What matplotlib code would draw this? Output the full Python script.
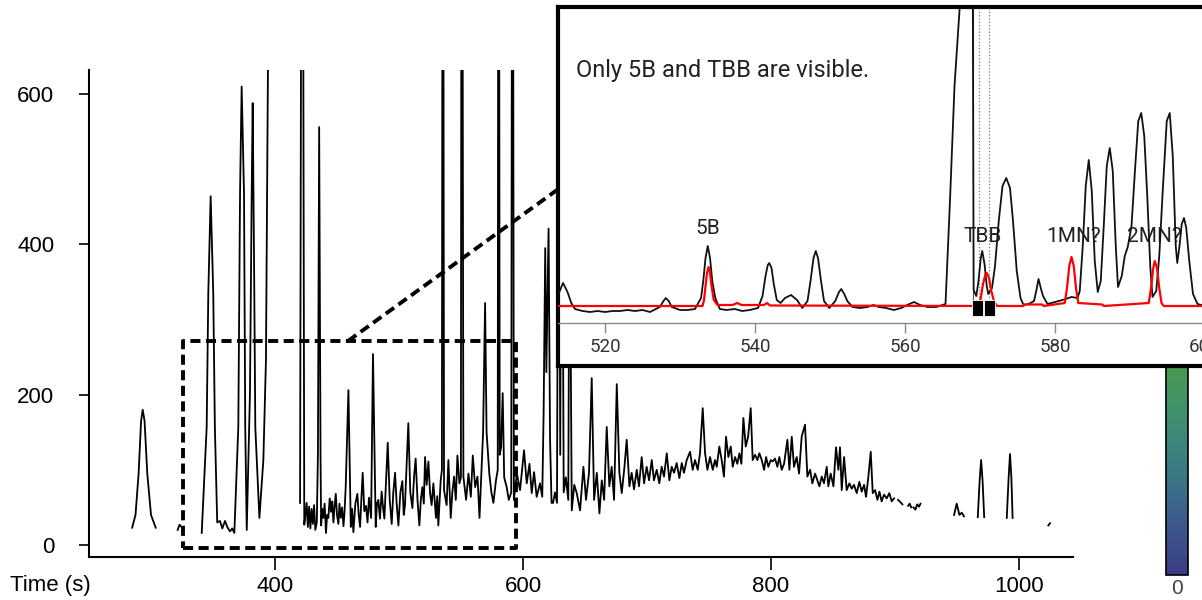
import numpy as np
import matplotlib
matplotlib.use('Agg')
import matplotlib.pyplot as plt
from matplotlib.lines import Line2D
from matplotlib.patches import Rectangle
from matplotlib.colors import LinearSegmentedColormap, Normalize
from matplotlib.cm import ScalarMappable

plt.rcParams['font.family'] = ['Liberation Sans', 'DejaVu Sans']

# ---- main trace, (time s, counts); off-scale tops are above the axis limit
peak_290 = [(284.8, 23), (287.5, 40), (290.0, 95), (292.0, 165), (293.3, 180),
            (294.8, 165), (297.0, 95), (300.0, 40), (303.8, 23)]
tick_323 = [(321.5, 20), (323.0, 27), (324.0, 25)]
run_340 = [(340.9, 16), (344.9, 157), (346.2, 335), (348.1, 464), (350.2, 335),
           (351.5, 157), (353.4, 30), (355.6, 32), (357.5, 22), (359.7, 32),
           (361.5, 24), (363.7, 18), (365.5, 22), (367.2, 16), (370.4, 157),
           (371.8, 468), (373.1, 610), (375.0, 468), (376.0, 157), (377.2, 20),
           (379.8, 202), (381.2, 468), (382.0, 588), (383.1, 379), (384.1, 157),
           (387.4, 36), (390.6, 113), (392.7, 246), (395.4, 900)]
run_420 = [(420.2, 56), (421.9, 1400), (423.6, 27), (424.5, 40), (425.5, 56),
           (426.5, 24), (427.5, 51), (428.5, 22), (429.5, 48), (430.5, 28),
           (431.5, 53), (432.5, 20), (433.7, 30), (434.6, 120), (435.6, 556),
           (436.7, 120), (437.2, 26), (438.1, 48), (439.0, 36), (440.0, 55),
           (441.1, 16), (442.0, 40), (443.0, 36), (444.1, 62), (445.2, 44),
           (446.2, 58), (447.1, 30), (448.0, 50), (449.0, 68), (450.0, 40),
           (451.1, 28), (452.0, 55), (453.0, 36), (454.1, 50), (455.2, 25),
           (456.1, 45), (457.0, 77), (459.2, 206), (461.1, 24), (462.2, 48),
           (463.2, 17), (464.8, 55), (466.4, 68), (467.5, 40), (468.6, 24),
           (469.6, 60), (470.7, 96), (472.0, 45), (473.4, 52), (474.6, 30),
           (475.8, 63), (476.7, 48), (477.5, 36), (479.0, 254), (481.2, 24),
           (482.2, 55), (483.3, 60), (484.6, 35), (486.0, 71), (487.1, 50),
           (488.2, 35), (490.9, 136), (492.5, 60), (494.1, 28), (495.4, 70),
           (496.8, 96), (498.1, 55), (499.5, 26), (501.1, 70), (502.7, 85),
           (503.8, 40), (504.8, 53), (507.5, 162), (509.1, 70), (510.8, 49),
           (512.1, 90), (513.4, 115), (514.9, 60), (516.4, 26), (517.6, 60),
           (518.8, 77), (520.0, 55), (521.0, 117), (522.3, 80), (523.7, 111),
           (525.0, 70), (526.3, 53), (527.7, 82), (529.8, 36), (530.8, 65),
           (531.7, 26), (533.6, 86), (534.6, 100),
           (535.3, 1400), (536.3, 73), (538.4, 53), (539.8, 113), (541.7, 36),
           (543.0, 70), (544.4, 91), (545.8, 60), (547.1, 119), (548.7, 82),
           (549.9, 90), (550.6, 1400),
           (551.9, 91), (554.1, 60), (556.0, 95), (557.9, 64), (559.5, 119),
           (561.4, 77), (563.3, 91), (564.9, 36), (566.8, 113), (567.8, 150),
           (569.4, 322), (570.6, 150), (572.8, 95), (574.5, 70), (576.1, 56),
           (578.2, 86), (579.6, 100), (580.3, 1400), (581.2, 120), (582.3, 130),
           (583.6, 202), (584.8, 90), (586.8, 77), (588.5, 60), (590.5, 70),
           (591.5, 1400), (592.6, 60), (595.0, 95), (597.6, 73), (600.8, 126),
           (603.0, 82), (605.2, 108), (607.0, 69), (608.9, 97), (611.0, 64),
           (613.7, 82), (615.5, 64), (616.6, 175), (617.9, 395), (618.8, 230),
           (620.6, 421), (621.8, 140), (623.0, 56), (624.2, 56), (625.8, 70),
           (627.4, 56), (628.8, 800), (630.0, 120), (631.2, 700), (632.8, 70),
           (634.5, 90), (636.5, 60), (637.5, 500), (639.3, 46), (641.3, 80),
           (643.3, 69), (646.0, 46), (648.7, 104), (650.8, 60), (653.2, 96),
           (655.4, 222), (657.3, 60), (659.5, 96), (661.6, 42), (663.5, 86),
           (665.4, 60), (667.5, 157), (669.6, 78), (671.5, 104), (673.4, 60),
           (675.6, 214), (677.7, 96), (679.6, 69), (681.8, 104), (683.6, 140),
           (685.8, 78), (687.6, 96), (689.5, 74), (691.7, 100), (693.5, 78),
           (695.7, 117), (697.6, 82), (699.7, 104), (701.6, 86), (703.8, 113),
           (705.6, 86), (707.8, 100), (709.9, 82), (711.8, 104), (713.7, 91),
           (715.9, 122), (718.0, 86), (719.9, 104), (721.8, 96), (723.9, 109),
           (726.1, 89), (728.0, 109), (729.8, 96), (732.0, 113), (734.7, 124),
           (736.8, 100), (738.7, 113), (740.9, 100), (742.7, 122), (744.9, 182),
           (746.8, 122), (748.7, 100), (750.8, 117), (753.0, 100), (754.8, 113),
           (756.2, 104), (758.3, 131), (760.2, 113), (762.0, 91), (763.7, 144),
           (765.6, 117), (767.5, 131), (769.1, 104), (771.0, 117), (772.8, 108),
           (774.5, 122), (776.1, 108), (777.7, 169), (779.6, 131), (781.5, 144),
           (783.6, 182), (785.2, 113), (787.1, 120), (789.0, 113), (790.6, 122),
           (792.5, 113), (794.4, 100), (796.0, 117), (797.8, 104), (799.7, 113),
           (801.3, 111), (803.2, 115), (805.1, 104), (806.7, 117), (808.6, 100),
           (810.5, 108), (813.2, 140), (814.8, 100), (816.7, 144), (818.5, 104),
           (820.7, 117), (822.6, 95), (824.7, 144), (827.4, 160), (829.3, 91),
           (831.5, 100), (833.3, 82), (835.5, 95), (837.4, 86), (839.0, 78),
           (840.9, 91), (842.7, 82), (844.9, 104), (846.2, 78), (848.1, 95),
           (850.3, 78), (852.4, 130), (854.3, 100), (855.6, 130), (857.0, 73),
           (858.9, 117), (861.0, 73), (863.2, 82), (865.1, 75), (866.9, 80),
           (869.1, 69), (871.2, 84), (873.1, 71), (875.0, 80), (876.6, 64),
           (878.5, 91), (880.4, 124), (882.0, 69), (883.9, 73), (885.8, 60),
           (887.4, 71), (889.2, 58), (891.1, 67), (893.3, 62), (895.4, 69),
           (897.3, 58), (899.2, 62)]
bits_905 = [(902.5, 60), (904.2, 57), (906.0, 54)]
bits_911 = [(910.5, 52), (911.8, 55), (913.0, 50)]
bits_917 = [(914.8, 50), (916.4, 47), (917.8, 54), (919.4, 51), (920.5, 55)]
run_950 = [(947.6, 40), (949.7, 55), (951.9, 40), (953.8, 43), (955.6, 38)]
peak_969 = [(966.7, 37), (968.2, 85), (969.4, 113), (970.6, 85), (971.9, 37)]
peak_993 = [(990.1, 36), (991.6, 90), (992.7, 121), (993.8, 90), (994.8, 36)]
tick_1024 = [(1023.6, 26), (1025.0, 29)]

main_segments = [peak_290, tick_323, run_340, run_420, bits_905, bits_911,
                 bits_917, run_950, peak_969, peak_993, tick_1024]

# zoom window drawn on the main trace (time, counts)
zoom_t = [325.8, 594.4]
zoom_v = [-4, 271]

# ---- inset trace (time s, height above baseline)
inset_black = [(513.8, 12), (514.4, 23), (515.0, 14), (515.5, 3), (516.0, -3),
               (517, -5), (518, -6), (519, -5), (520, -6), (521, -5), (522, -5),
               (523, -4), (524, -5), (525, -4), (526, -6), (527.3, -1),
               (527.8, 5), (528.1, 8), (528.5, 5), (528.9, -1), (530, -4),
               (531, -4), (532, -3), (532.8, 8), (533.1, 25), (533.4, 48),
               (533.7, 60), (534.0, 48), (534.3, 25), (534.7, 8), (535.3, -3),
               (536.2, -4), (537.3, -3), (538.3, -5), (539.3, -4), (540.4, -2),
               (541.0, 10), (541.4, 30), (541.7, 41), (541.9, 43), (542.2, 38),
               (542.5, 22), (542.9, 6), (543.4, 3), (544.0, 8), (544.8, 11),
               (545.6, 6), (546.3, -2), (547.0, 5), (547.4, 25), (547.8, 48),
               (548.1, 55), (548.4, 48), (548.8, 25), (549.2, 5), (549.9, -2),
               (550.7, 5), (551.2, 14), (551.5, 17), (551.9, 12), (552.3, 5),
               (553.0, -1), (554, -2), (555, -1), (555.8, 1), (556.5, -1),
               (557.5, -2), (558.5, -4), (559.5, -2), (560.3, 1), (561.2, 4),
               (562.0, 1), (563, -1), (564.2, -1), (565.4, 2), (566.0, 106),
               (566.6, 220), (567.3, 298), (568.2, 420), (569.0, 420),
               (569.15, 16), (569.5, 10), (569.8, 25), (570.1, 48), (570.3, 55),
               (570.6, 42), (570.9, 20), (571.1, 12), (571.6, 18), (572.0, 40),
               (572.5, 85), (573.0, 120), (573.5, 128), (574.0, 118), (574.4, 85),
               (574.9, 35), (575.4, 8), (575.8, 1), (576.5, 2), (577.2, 5),
               (577.5, 15), (577.8, 27), (578.1, 18), (578.4, 10), (579.0, 2),
               (580, 4), (581, 6), (582.2, 9), (583.0, 8), (583.3, 15),
               (583.7, 60), (584.1, 120), (584.5, 146), (584.9, 115), (585.3, 45),
               (585.7, 14), (586.1, 25), (586.5, 80), (586.9, 140), (587.3, 158),
               (587.7, 135), (588.1, 60), (588.4, 19), (588.9, 30), (589.3, 50),
               (589.7, 59), (590.2, 80), (590.7, 140), (591.1, 185), (591.5, 193),
               (591.9, 170), (592.3, 110), (592.7, 40), (593.0, 9), (593.5, 15),
               (593.9, 50), (594.4, 120), (594.9, 185), (595.3, 193), (595.7, 150),
               (596.1, 60), (596.3, 43), (596.6, 60), (596.9, 82), (597.2, 88),
               (597.5, 78), (597.9, 45), (598.4, 12), (599.0, 2), (600, 0),
               (603, 0), (607, 0)]
inset_red = [(513.7, 0), (533.0, 0), (533.2, 6), (533.4, 20), (533.6, 33),
             (533.8, 39), (534.0, 33), (534.2, 20), (534.5, 6), (535.0, 1),
             (537.0, 1), (537.6, 3), (538.2, 1), (541.2, 1), (541.6, 3),
             (542.0, 0.5), (569.8, 0), (570.1, 8), (570.4, 22), (570.7, 31),
             (570.9, 33), (571.2, 28), (571.5, 15), (571.9, 4), (572.3, 0),
             (575.8, 0), (575.9, 1.5), (578.3, 1.5), (578.5, 0), (581.3, 3),
             (581.6, 18), (581.9, 40), (582.2, 49), (582.5, 40), (582.8, 18),
             (583.1, 3), (586.3, 1.5), (586.5, 0), (592.5, 3), (592.8, 18),
             (593.1, 38), (593.3, 45), (593.6, 38), (593.9, 18), (594.2, 3),
             (594.5, 0), (607, 0)]
inset_labels = ['5B', 'TBB', '1MN?', '2MN?']
label_t = [533.7, 570.4, 582.5, 593.3]
label_h = [78, 70, 70, 70]
marker_lines = [569.8, 571.2]
marker_boxes = [568.9, 570.5]

cbar_colors = ['#3d3b87', '#3b5b8c', '#3a7d84', '#3f9170', '#4a9a4c']

W, H = 1202, 600
fig = plt.figure(figsize=(W / 100, H / 100), dpi=100)


def fbox(x0, y0, x1, y1):
    # pixel box (top-left origin) -> figure fraction [l, b, w, h]
    return [x0 / W, 1 - y1 / H, (x1 - x0) / W, (y1 - y0) / H]


# ---- main axes
ax = fig.add_axes(fbox(89, 70, 1073, 557))
ax.set_zorder(1)
t_all, v_all = [], []
for seg in main_segments:
    for t, v in seg:
        t_all.append(t)
        v_all.append(v)
    t_all.append(np.nan)
    v_all.append(np.nan)
ax.plot(t_all, v_all, color='black', lw=1.3)
ax.set_xlim(250, 1043.5)
ax.set_ylim(-16, 632)
ax.set_xticks([400, 600, 800, 1000])
ax.set_yticks([0, 200, 400, 600])
for s in ['top', 'right']:
    ax.spines[s].set_visible(False)
for s in ['left', 'bottom']:
    ax.spines[s].set_linewidth(1.5)
ax.tick_params(axis='x', length=9, width=1.2, pad=5, labelsize=16)
ax.tick_params(axis='y', length=7, width=1.2, pad=18, labelsize=16)

ax.plot([zoom_t[0], zoom_t[1], zoom_t[1], zoom_t[0], zoom_t[0]],
        [zoom_v[0], zoom_v[0], zoom_v[1], zoom_v[1], zoom_v[0]],
        color='black', lw=2.8, ls=(0, (2.6, 1.4)), clip_on=False)

fig.text(10 / W, 1 - 585 / H, 'Time (s)', fontsize=16, va='center', ha='left')

# connector from zoom window to the inset
fig.add_artist(Line2D([348 / W, 557 / W], [1 - 341 / H, 1 - 190 / H],
                      transform=fig.transFigure, color='black', lw=2.8,
                      ls=(0, (2.6, 1.4)), zorder=2))

# ---- colour bar at right
cax = fig.add_axes(fbox(1166, 360, 1188, 575))
cax.set_zorder(1)
cmap = LinearSegmentedColormap.from_list('bar', cbar_colors)
cb = fig.colorbar(ScalarMappable(norm=Normalize(0, 1), cmap=cmap), cax=cax)
cb.set_ticks([])
cb.outline.set_linewidth(1.2)
fig.text(1177 / W, 1 - 588 / H, '0', fontsize=15, ha='center', va='center',
         color='#444444')

# ---- inset frame
box = fig.add_axes(fbox(558, 7, 1262, 366))
box.set_zorder(5)
box.set_facecolor('white')
box.set_xticks([])
box.set_yticks([])
for s in box.spines.values():
    s.set_linewidth(3)

ins = fig.add_axes(fbox(558, 8, 1262, 323))
ins.set_zorder(6)
ins.patch.set_alpha(0)
ins.set_xlim(513.73, 607.6)
ins.set_ylim(-17, 298)
for s in ['top', 'right', 'left']:
    ins.spines[s].set_visible(False)
ins.spines['bottom'].set_color('#8a8a8a')
ins.spines['bottom'].set_linewidth(1)
ins.set_yticks([])
ins.set_xticks([520, 540, 560, 580, 600])
ins.tick_params(axis='x', length=7, width=1, color='#8a8a8a', pad=4,
                labelsize=13.5, labelcolor='#333333')
for lab in ins.get_xticklabels():
    lab.set_fontfamily(['Roboto', 'DejaVu Sans'])

for mt in marker_lines:
    ins.axvline(mt, ymin=0.06, ymax=1, color='#777777', lw=0.9, ls=':')
ins.axvline(569.0, ymin=0.06, ymax=1, color='#555555', lw=0.8)
for mb in marker_boxes:
    ins.add_patch(Rectangle((mb, -10), 1.45, 16, facecolor='black',
                            edgecolor='white', lw=0.6, zorder=4))

bt = [p[0] for p in inset_black]
bh = [p[1] for p in inset_black]
rt = [p[0] for p in inset_red]
rh = [p[1] for p in inset_red]
ins.plot(bt, bh, color='#111111', lw=1.3, zorder=3)
ins.plot(rt, rh, color='#ff0000', lw=1.6, zorder=3.5)

for name, t, h in zip(inset_labels, label_t, label_h):
    ins.text(t, h, name, fontsize=15, ha='center', va='center',
             color='#222222', family=['Roboto', 'DejaVu Sans'], zorder=2)
ins.text(516.1, 236, 'Only 5B and TBB are visible.', fontsize=17, ha='left',
         va='center', color='#222222', family=['Roboto', 'DejaVu Sans'])

fig.savefig('out.png', dpi=100)
